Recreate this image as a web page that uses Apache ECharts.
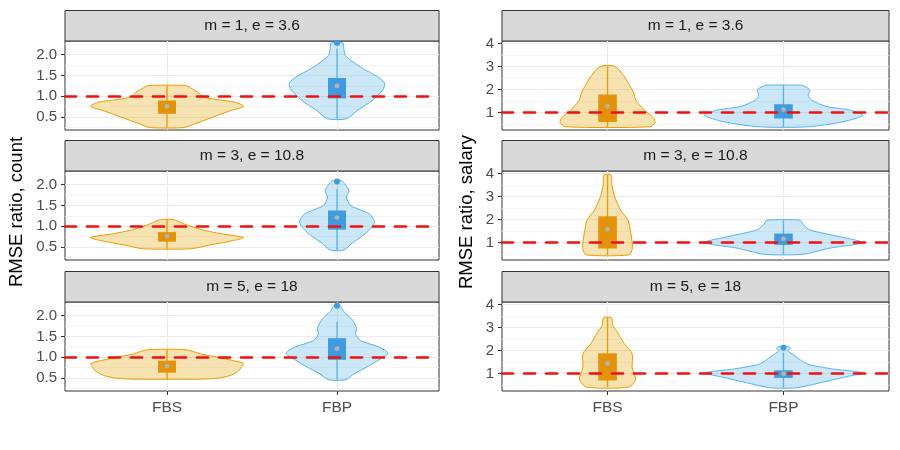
<!DOCTYPE html>
<html>
<head>
<meta charset="utf-8">
<title>RMSE ratio violins</title>
<script src="https://cdn.jsdelivr.net/npm/echarts@6/dist/echarts.min.js"></script>
<style>
  html, body { margin: 0; padding: 0; background: #fff; }
  #chart { width: 900px; height: 450px; }
</style>
</head>
<body>
<div id="chart"></div>
<script>
// categories and facet labels
const groups = ['FBS', 'FBP'];
const panelTitles = ['m = 1, e = 3.6', 'm = 3, e = 10.8', 'm = 5, e = 18'];
const measureTitles = ['RMSE ratio, count', 'RMSE ratio, salary'];

// axis ticks
const countTicks = [0.5, 1.0, 1.5, 2.0];
const countMinorTicks = [0.25, 0.75, 1.25, 1.75, 2.25];
const salaryTicks = [1, 2, 3, 4];
const salaryMinorTicks = [0.5, 1.5, 2.5, 3.5];
const countRange = [0.19, 2.33];
const salaryRange = [0.24, 4.11];
const refValue = 1;

// violin outlines: y value and half width (x units)
const count1FbsY = [0.25, 0.35, 0.5, 0.65, 0.76, 0.86, 0.93, 0.99, 1.09, 1.2, 1.26];
const count1FbsW = [0.10, 0.17, 0.27, 0.37, 0.45, 0.40, 0.28, 0.21, 0.185, 0.14, 0.11];
const count1FbpY = [0.46, 0.66, 0.91, 1.16, 1.32, 1.48, 1.65, 1.81, 1.98, 2.14, 2.28];
const count1FbpW = [0.055, 0.12, 0.21, 0.27, 0.28, 0.235, 0.16, 0.10, 0.05, 0.04, 0.035];

const count2FbsY = [0.46, 0.55, 0.64, 0.73, 0.82, 0.9, 1.0, 1.075, 1.16];
const count2FbsW = [0.14, 0.25, 0.37, 0.45, 0.32, 0.22, 0.14, 0.09, 0.04];
const count2FbpY = [0.43, 0.6, 0.8, 1.0, 1.12, 1.3, 1.5, 1.7, 1.85, 2.0, 2.1];
const count2FbpW = [0.04, 0.09, 0.16, 0.21, 0.22, 0.19, 0.08, 0.055, 0.07, 0.05, 0.025];

const count3FbsY = [0.475, 0.5, 0.56, 0.67, 0.78, 0.85, 0.92, 1.0, 1.08, 1.18];
const count3FbsW = [0.2, 0.3, 0.37, 0.42, 0.44, 0.45, 0.39, 0.3, 0.2, 0.115];
const count3FbpY = [0.46, 0.6, 0.8, 1.0, 1.1, 1.25, 1.4, 1.55, 1.7, 1.9, 2.1, 2.23];
const count3FbpW = [0.05, 0.1, 0.19, 0.27, 0.30, 0.245, 0.14, 0.11, 0.115, 0.09, 0.04, 0.02];

const salary1FbsY = [0.38, 0.57, 0.78, 1.1, 1.54, 1.83, 2.26, 2.62, 3.01];
const salary1FbsW = [0.24, 0.27, 0.26, 0.21, 0.16, 0.15, 0.12, 0.09, 0.04];
const salary1FbpY = [0.38, 0.6, 0.88, 1.1, 1.27, 1.54, 1.75, 1.97, 2.14, 2.19];
const salary1FbpW = [0.14, 0.34, 0.45, 0.38, 0.24, 0.16, 0.14, 0.15, 0.12, 0.095];

const salary2FbsY = [0.46, 0.7, 1.0, 1.5, 2.0, 2.4, 3.0, 3.5, 3.94];
const salary2FbsW = [0.12, 0.14, 0.14, 0.13, 0.115, 0.075, 0.04, 0.025, 0.02];
const salary2FbpY = [0.49, 0.75, 1.0, 1.3, 1.55, 1.8, 1.97];
const salary2FbpW = [0.11, 0.26, 0.45, 0.29, 0.15, 0.11, 0.095];

const salary3FbsY = [0.41, 0.75, 1.25, 1.85, 2.3, 2.75, 3.1, 3.42];
const salary3FbsW = [0.12, 0.16, 0.14, 0.14, 0.095, 0.06, 0.03, 0.023];
const salary3FbpY = [0.38, 0.6, 0.85, 1.03, 1.2, 1.4, 1.6, 1.85, 2.0, 2.1, 2.18];
const salary3FbpW = [0.075, 0.21, 0.35, 0.45, 0.28, 0.14, 0.095, 0.05, 0.025, 0.04, 0.025];

// box stats per facet row, [FBS, FBP]
const countQ1 = [[0.58, 0.95], [0.63, 0.92], [0.63, 0.94]];
const countQ3 = [[0.90, 1.44], [0.86, 1.38], [0.92, 1.46]];
const countMean = [[0.76, 1.25], [0.76, 1.21], [0.79, 1.21]];
const countLow = [[0.25, 0.46], [0.46, 0.43], [0.475, 0.46]];
const countHigh = [[1.26, 2.15], [1.16, 1.9], [1.18, 1.85]];
const countOutliers = [[[], [2.28]], [[], [2.08]], [[], [2.24]]];

const salaryQ1 = [[0.59, 0.74], [0.74, 0.90], [0.70, 0.81]];
const salaryQ3 = [[1.78, 1.36], [2.14, 1.39], [1.88, 1.14]];
const salaryMean = [[1.27, 1.13], [1.58, 1.16], [1.43, 0.99]];
const salaryLow = [[0.38, 0.38], [0.46, 0.49], [0.41, 0.38]];
const salaryHigh = [[3.01, 2.19], [3.94, 1.97], [3.42, 1.9]];
const salaryOutliers = [[[], []], [[], []], [[], [2.12]]];

document.addEventListener('DOMContentLoaded', function() {
  initChart();
});

/**
 * 颜色
 */
const groupColors = [
  { line: '#E69F00', fill: 'rgba(230,159,0,0.3)', box: '#E3930A' },
  { line: '#56B4E9', fill: 'rgba(86,180,233,0.3)', box: '#3F9CE0' }
];

/**
 * 单个小提琴（含箱体、均值点、离群点）
 */
function makeViolinSeries(gridIndex, groupIndex, ys, ws, stats) {
  const color = groupColors[groupIndex];
  return {
    type: 'custom',
    xAxisIndex: gridIndex,
    yAxisIndex: gridIndex * 2,
    data: [[groupIndex + 1]],
    z: 2,
    silent: true,
    renderItem: function(params, api) {
      const x = api.value(0);
      const left = ys.map((y, i) => api.coord([x - ws[i], y]));
      const right = ys.map((y, i) => api.coord([x + ws[i], y])).reverse();
      const low = api.coord([x, stats.low]);
      const high = api.coord([x, stats.high]);
      const boxA = api.coord([x - 0.053, stats.q3]);
      const boxB = api.coord([x + 0.053, stats.q1]);
      const mean = api.coord([x, stats.mean]);
      const children = [
        {
          type: 'polygon',
          shape: { points: left.concat(right), smooth: 0.25 },
          style: { fill: color.fill, stroke: color.line, lineWidth: 1 }
        },
        {
          type: 'line',
          shape: { x1: low[0], y1: low[1], x2: high[0], y2: high[1] },
          style: { stroke: color.line, lineWidth: 1.3 }
        },
        {
          type: 'rect',
          shape: { x: boxA[0], y: boxA[1], width: boxB[0] - boxA[0], height: boxB[1] - boxA[1] },
          style: { fill: color.box }
        },
        {
          type: 'circle',
          shape: { cx: mean[0], cy: mean[1], r: 2.4 },
          style: { fill: '#B4B4B4' }
        }
      ];
      stats.outliers.forEach(v => {
        const p = api.coord([x, v]);
        children.push({
          type: 'circle',
          shape: { cx: p[0], cy: p[1], r: 3 },
          style: { fill: color.box }
        });
      });
      return { type: 'group', children: children };
    }
  };
}

/**
 * 初始化图表
 */
function initChart() {
  const chartDom = document.getElementById('chart');
  const chart = echarts.init(chartDom);

  const font = 'Liberation Sans, Arial, sans-serif';
  const colLeft = [65, 502];
  const colWidth = [374, 387];
  const rowTop = [41, 171, 302];
  const plotHeight = 89;
  const stripHeight = 30.5;

  const violins = [
    [[count1FbsY, count1FbsW], [count1FbpY, count1FbpW]],
    [[count2FbsY, count2FbsW], [count2FbpY, count2FbpW]],
    [[count3FbsY, count3FbsW], [count3FbpY, count3FbpW]],
    [[salary1FbsY, salary1FbsW], [salary1FbpY, salary1FbpW]],
    [[salary2FbsY, salary2FbsW], [salary2FbpY, salary2FbpW]],
    [[salary3FbsY, salary3FbsW], [salary3FbpY, salary3FbpW]]
  ];
  const statSets = [
    { q1: countQ1, q3: countQ3, mean: countMean, low: countLow, high: countHigh, out: countOutliers },
    { q1: salaryQ1, q3: salaryQ3, mean: salaryMean, low: salaryLow, high: salaryHigh, out: salaryOutliers }
  ];

  const grid = [];
  const xAxis = [];
  const yAxis = [];
  const series = [];
  const graphic = [];

  for (let col = 0; col < 2; col++) {
    const ticks = col === 0 ? countTicks : salaryTicks;
    const minorTicks = col === 0 ? countMinorTicks : salaryMinorTicks;
    const range = col === 0 ? countRange : salaryRange;

    for (let row = 0; row < 3; row++) {
      const g = col * 3 + row;
      const bottomRow = row === 2;

      grid.push({
        left: colLeft[col],
        top: rowTop[row],
        width: colWidth[col],
        height: plotHeight,
        show: true,
        backgroundColor: '#fff',
        borderColor: '#333333',
        borderWidth: 1,
        z: 0
      });

      xAxis.push({
        type: 'value',
        gridIndex: g,
        min: 0.4,
        max: 2.6,
        axisLine: { show: false },
        axisTick: {
          show: bottomRow,
          customValues: [1, 2],
          length: 4,
          lineStyle: { color: '#333333', width: 1 }
        },
        axisLabel: {
          show: bottomRow,
          customValues: [1, 2],
          formatter: v => groups[Math.round(v) - 1],
          fontFamily: font,
          fontSize: 15.5,
          color: '#4D4D4D',
          margin: 9
        },
        splitLine: { show: true, lineStyle: { color: '#EBEBEB', width: 1.2 } }
      });

      // 主刻度轴
      yAxis.push({
        type: 'value',
        gridIndex: g,
        min: range[0],
        max: range[1],
        axisLine: { show: false },
        axisTick: {
          show: true,
          customValues: ticks,
          length: 4,
          lineStyle: { color: '#333333', width: 1 }
        },
        axisLabel: {
          customValues: ticks,
          formatter: v => col === 0 ? v.toFixed(1) : String(Math.round(v)),
          fontFamily: font,
          fontSize: 15,
          color: '#4D4D4D',
          margin: 8
        },
        splitLine: { show: true, lineStyle: { color: '#EBEBEB', width: 1.2 } }
      });
      // 次刻度网格线
      yAxis.push({
        type: 'value',
        gridIndex: g,
        min: range[0],
        max: range[1],
        axisLine: { show: false },
        axisTick: { show: false, customValues: minorTicks },
        axisLabel: { show: false },
        splitLine: { show: true, lineStyle: { color: '#F2F2F2', width: 0.8 } }
      });

      const set = statSets[col];
      for (let k = 0; k < 2; k++) {
        const v = violins[g][k];
        series.push(makeViolinSeries(g, k, v[0], v[1], {
          q1: set.q1[row][k],
          q3: set.q3[row][k],
          mean: set.mean[row][k],
          low: set.low[row][k],
          high: set.high[row][k],
          outliers: set.out[row][k]
        }));
      }

      // 参考线 y = 1
      series.push({
        type: 'line',
        xAxisIndex: g,
        yAxisIndex: g * 2,
        data: [],
        z: 10,
        silent: true,
        markLine: {
          silent: true,
          symbol: 'none',
          label: { show: false },
          animation: false,
          lineStyle: { color: '#F01010', width: 2.7, type: [11, 11], cap: 'round' },
          data: [{ yAxis: refValue }]
        }
      });

      // 分面标题条
      graphic.push({
        type: 'group',
        children: [
          {
            type: 'rect',
            shape: { x: colLeft[col], y: rowTop[row] - stripHeight, width: colWidth[col], height: stripHeight },
            style: { fill: '#D9D9D9', stroke: '#333333', lineWidth: 1 }
          },
          {
            type: 'text',
            x: colLeft[col] + colWidth[col] / 2,
            y: rowTop[row] - stripHeight / 2,
            style: {
              text: panelTitles[row],
              font: '15.5px ' + font,
              fill: '#1A1A1A',
              textAlign: 'center',
              textVerticalAlign: 'middle'
            }
          }
        ]
      });
    }

    // 纵轴标题
    graphic.push({
      type: 'text',
      x: col === 0 ? 17 : 467,
      y: 212,
      rotation: Math.PI / 2,
      style: {
        text: measureTitles[col],
        font: '18.5px ' + font,
        fill: '#000',
        textAlign: 'center',
        textVerticalAlign: 'middle'
      }
    });
  }

  chart.setOption({
    animation: false,
    grid: grid,
    xAxis: xAxis,
    yAxis: yAxis,
    series: series,
    graphic: graphic
  });
}
</script>
</body>
</html>
